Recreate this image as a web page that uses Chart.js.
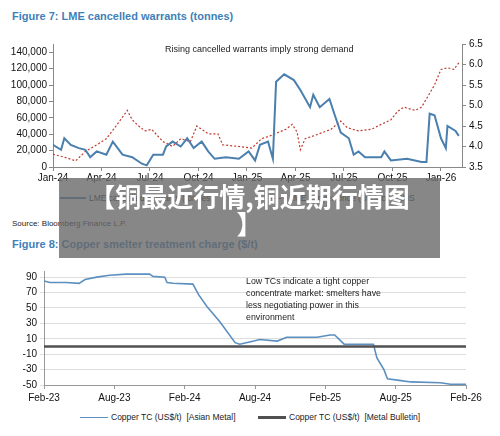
<!DOCTYPE html>
<html><head><meta charset="utf-8">
<script src="https://cdn.jsdelivr.net/npm/chart.js@4/dist/chart.umd.min.js"></script>
<style>
body{margin:0;width:500px;height:436px;background:#fff;position:relative;overflow:hidden;font-family:'Liberation Sans Narrow','Liberation Sans',Arial,sans-serif;color:#222}
.t{position:absolute;white-space:nowrap}
.fig{color:#3f7fb8;font-weight:bold;font-size:11px}
canvas{position:absolute;left:0}
#overlay{position:absolute;left:59px;top:178px;width:381px;height:80px;background:rgba(105,105,105,0.8);color:#fff;font:bold 26px 'Noto Sans CJK SC',sans-serif;text-align:center;line-height:27px;padding-top:4px;box-sizing:border-box}
.leg{position:absolute;font-size:8.5px;white-space:nowrap;display:flex;align-items:center}
.sw{display:inline-block;width:26px;margin-right:3px}
</style></head><body>
<div class="t fig" style="left:12px;top:10px">Figure 7: LME cancelled warrants (tonnes)</div>
<canvas id="c1" width="500" height="150" style="top:35px;width:500px;height:150px"></canvas>
<div class="t" style="left:165px;top:44px;font-size:9px">Rising cancelled warrants imply strong demand</div>
<div class="leg" style="left:60px;top:193px"><span class="sw" style="border-top:2px solid #4a7fae"></span>LME cancelled warrants (tonnes)</div>
<div class="leg" style="left:260px;top:193px"><span class="sw" style="border-top:1.5px dashed #c0392b"></span>LME copper price (US$/lb) - RHS</div>
<div class="t" style="left:12px;top:219px;font-size:8px">Source: Bloomberg Finance L.P.</div>
<div class="t fig" style="left:12px;top:238px">Figure 8: Copper smelter treatment charge ($/t)</div>
<canvas id="c2" width="500" height="145" style="top:262px;width:500px;height:145px"></canvas>
<div class="t" style="left:246px;top:275px;font-size:8.8px;line-height:12px">Low TCs indicate a tight copper<br>concentrate market: smelters have<br>less negotiating power in this<br>environment</div>
<div class="leg" style="left:80px;top:412px"><span class="sw" style="border-top:1.5px solid #5b8fc0;width:28px"></span>Copper TC (US$/t)&nbsp; [Asian Metal]</div>
<div class="leg" style="left:258px;top:412px"><span class="sw" style="border-top:3px solid #505050;width:28px"></span>Copper TC (US$/t)&nbsp; [Metal Bulletin]</div>
<div id="overlay">【铜最近行情,铜近期行情图<br>】</div>
<script>
// Figure 7: months since Jan-24
const warrantMonths = [0,0.5,0.7,1.1,1.6,2,2.3,2.7,3.3,3.7,4.3,4.9,5.5,5.8,6.2,6.8,7,7.4,7.9,8.3,8.7,9.2,9.6,10,10.7,11.5,12.1,12.5,12.8,13.3,13.6,13.8,14.3,14.9,15.3,15.9,16.1,16.5,17.1,17.4,17.8,18.3,18.6,18.9,19.3,20.3,20.5,20.9,21.9,22.8,23.1,23.3,23.6,24,24.3,24.4,24.9,25.1];
const warrants = [27,21,35,27,23,21,12,19,15,31,15,12,4,2,15,15,25,31,25,35,23,31,19,10,12,10,19,8,27,31,10,104,113,106,94,73,88,73,83,65,42,35,15,19,12,12,19,8,10,6,6,65,63,35,23,50,44,38];
const priceMonths = [0,0.8,1.4,2,2.7,3.3,3.9,4.6,4.9,5.3,5.7,6.1,6.8,7.4,7.9,8.5,8.9,9.6,10.2,10.5,11.5,12.3,12.9,13.5,14.4,14.8,15.1,15.3,15.6,16.2,17.2,17.8,18.2,18.9,19.7,20.3,20.9,21.3,21.7,22.4,22.8,23.2,23.6,24,24.4,24.8,25.1];
const price = [3.81,3.73,3.65,3.88,4.04,4.19,4.5,4.88,4.65,4.5,4.38,4.42,4.12,4.0,4.19,4.12,4.5,4.31,4.31,4.04,4.0,3.96,4.19,4.27,4.42,4.54,4.35,3.92,4.19,4.27,4.42,4.62,4.46,4.38,4.42,4.54,4.65,4.85,4.96,4.88,4.96,5.23,5.5,5.88,5.92,5.88,6.04];
const quarterLabels = ['Jan-24','Apr-24','Jul-24','Oct-24','Jan-25','Apr-25','Jul-25','Oct-25','Jan-26'];
// Figure 8: months since Feb-23
const tcMonths = [0,0.5,1.9,3,3.5,4.5,5.6,7,9,9.3,10.3,10.5,11,12.7,13.2,13.9,15,16.3,16.7,17.9,18.4,19.9,20.7,23.3,24.4,24.8,25.6,28.1,28.4,29,29.3,30.3,31.3,33.8,34.7,36];
const tcAsian = [85,83,83,82,87,90,92.5,94,94,91,90,83,82,81,67,52,32,5,3,7,9,7,12,12,15,15,3,3,-15,-30,-42,-44,-46,-47,-49,-49];
const mbMonths = [0,36];
const tcBulletin = [0,0];
const halfYearLabels = ['Feb-23','Aug-23','Feb-24','Aug-24','Feb-25','Aug-25','Feb-26'];

const FONT = { family: "'Liberation Sans Narrow','Liberation Sans',Arial", size: 10 };
const pts = (xs, ys) => xs.map((x, i) => ({ x, y: ys[i] }));

new Chart(document.getElementById('c1'), {
  type: 'line',
  data: { datasets: [
    { data: pts(warrantMonths, warrants.map(v => v * 1000)), borderColor: '#4a7fae', borderWidth: 2, pointRadius: 0, yAxisID: 'y', tension: 0 },
    { data: pts(priceMonths, price), borderColor: '#c0392b', borderWidth: 1.2, borderDash: [2, 2], pointRadius: 0, yAxisID: 'y2', tension: 0 }
  ]},
  options: {
    animation: false, responsive: false,
    layout: { padding: { top: 4, left: 0, right: 0 } },
    plugins: { legend: { display: false }, tooltip: { enabled: false } },
    scales: {
      x: { type: 'linear', min: 0, max: 25.3, border: { color: '#888' },
        grid: { display: true, drawOnChartArea: false, tickLength: 4, color: '#888' },
        afterBuildTicks: s => { s.ticks = quarterLabels.map((_, i) => ({ value: i * 3 })); },
        ticks: { color: '#111', font: FONT, padding: 1, maxRotation: 0, callback: v => quarterLabels[v / 3] } },
      y: { position: 'left', min: 0, max: 150000, border: { color: '#888' },
        grid: { display: true, drawOnChartArea: false, tickLength: 4, color: '#888' },
        afterBuildTicks: s => { s.ticks = [0,20000,40000,60000,80000,100000,120000,140000].map(v => ({ value: v })); },
        afterFit: s => { s.width = 53; },
        ticks: { color: '#111', font: FONT, padding: 2, callback: v => v.toLocaleString('en-US') } },
      y2: { position: 'right', min: 3.5, max: 6.5, border: { color: '#888' },
        grid: { display: true, drawOnChartArea: false, tickLength: 4, color: '#888' },
        afterFit: s => { s.width = 38; },
        ticks: { stepSize: 0.5, color: '#111', font: FONT, callback: v => v.toFixed(1) } }
    }
  }
});

new Chart(document.getElementById('c2'), {
  type: 'line',
  data: { datasets: [
    { data: pts(mbMonths, tcBulletin), borderColor: '#505050', borderWidth: 2.5, pointRadius: 0 },
    { data: pts(tcMonths, tcAsian), borderColor: '#5b8fc0', borderWidth: 1.6, pointRadius: 0 }
  ]},
  options: {
    animation: false, responsive: false,
    layout: { padding: { top: 7, right: 34 } },
    plugins: { legend: { display: false }, tooltip: { enabled: false } },
    scales: {
      x: { type: 'linear', min: 0, max: 36, border: { color: '#999' },
        grid: { display: true, drawOnChartArea: false, tickLength: 4, color: '#999' },
        afterBuildTicks: s => { s.ticks = halfYearLabels.map((_, i) => ({ value: i * 6 })); },
        ticks: { color: '#111', font: FONT, padding: 3, maxRotation: 0, callback: v => halfYearLabels[v / 6] } },
      y: { min: -50, max: 98, border: { color: '#999' },
        grid: { color: '#ddd', tickLength: 4 },
        afterBuildTicks: s => { s.ticks = [-50,-30,-10,10,30,50,70,90].map(v => ({ value: v })); },
        afterFit: s => { s.width = 44; },
        ticks: { color: '#111', font: FONT } }
    }
  }
});
</script>
</body></html>
